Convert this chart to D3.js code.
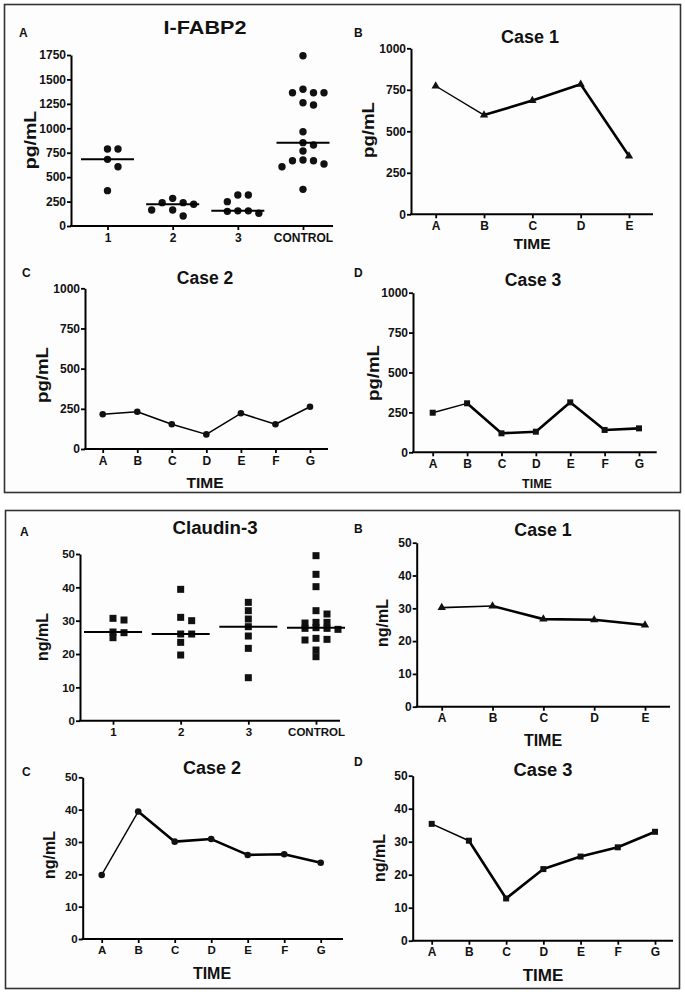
<!DOCTYPE html>
<html><head><meta charset="utf-8">
<script src="https://cdn.jsdelivr.net/npm/d3@7"></script>
<style>
html,body{margin:0;padding:0;background:#fff;}
svg text{font-family:Arial,"Liberation Sans",sans-serif;font-weight:bold;fill:#111;}
</style></head>
<body>
<svg id="c" width="685" height="992"></svg>
<script>
// ---------- DATA ----------
const groupCats = ["1", "2", "3", "CONTROL"];
const timeCats5 = ["A", "B", "C", "D", "E"];
const timeCats7 = ["A", "B", "C", "D", "E", "F", "G"];

// I-FABP2 (pg/mL)
const fabpGroup1 = [362, 607, 682, 788, 788];
const fabpGroup2 = [283, 239, 164, 222, 102, 239, 164];
const fabpGroup3 = [317, 317, 249, 155, 130, 155, 150];
const fabpControl = [1743, 1399, 1364, 1364, 1364, 1262, 1238, 965, 853, 829, 768, 675, 668, 668, 635, 607, 375];
const fabpCase1 = [773, 598, 685, 783, 351];
const fabpCase2 = [216, 232, 154, 91, 222, 154, 263];
const fabpCase3 = [248, 307, 119, 129, 313, 140, 150];
const fabpTicks = [0, 250, 500, 750, 1000, 1250, 1500, 1750];
const fabpCaseTicks = [0, 250, 500, 750, 1000];

// Claudin-3 (ng/mL)
const clGroup1 = [30.7, 30.2, 26.6, 24.9, 26.4];
const clGroup2 = [39.4, 30.0, 31.0, 26.0, 26.0, 23.5, 19.7];
const clGroup3 = [35.5, 33.0, 30.5, 28.2, 25.4, 21.7, 12.9];
const clControl = [49.5, 43.9, 40.2, 33.0, 32.0, 29.5, 29.3, 29.5, 27.9, 27.7, 27.4, 27.7, 24.4, 24.2, 24.7, 21.2, 19.2];
const clCase1 = [30.2, 30.7, 26.7, 26.5, 24.9];
const clCase2 = [19.8, 39.4, 30.1, 30.9, 26.0, 26.2, 23.6];
const clCase3 = [35.4, 30.3, 12.8, 21.7, 25.5, 28.3, 33.0];
const clTicks = [0, 10, 20, 30, 40, 50];

// ---------- DRAWING ----------
const svg = d3.select("#c");
svg.append("rect").attr("x", 4.5).attr("y", 4.5).attr("width", 676).attr("height", 488)
  .attr("fill", "#fdfdfd").attr("stroke", "#333").attr("stroke-width", 1.6);
svg.append("rect").attr("x", 5.5).attr("y", 510.5).attr("width", 674).attr("height", 478)
  .attr("fill", "#fdfdfd").attr("stroke", "#333").attr("stroke-width", 1.6);

function txt(x, y, s, size, opts = {}) {
  const t = svg.append("text").attr("font-size", size).attr("text-anchor", opts.anchor || "middle");
  let tr = `translate(${x},${y})`;
  if (opts.rot) tr += ` rotate(${opts.rot})`;
  if (opts.sx) tr += ` scale(${opts.sx},1)`;
  t.attr("transform", tr).text(s);
  return t;
}

function frame(c) {
  const y = d3.scaleLinear().domain([0, c.max]).range([c.y0, c.yTop]);
  const x = d3.scalePoint().domain(c.cats).range([c.cx0, c.cx1]);
  const g = svg.append("g");
  const ya = g.append("g").attr("transform", `translate(${c.ax},0)`)
    .call(d3.axisLeft(y).tickValues(c.ticks).tickSize(4).tickSizeOuter(0).tickPadding(1).tickFormat(d3.format("d")));
  ya.select(".domain").attr("stroke", "#000").attr("stroke-width", 2);
  ya.selectAll(".tick line").attr("stroke", "#000").attr("stroke-width", 1.8);
  ya.selectAll(".tick text").attr("font-size", c.tickSize).attr("fill", "#111")
    .attr("font-family", "Arial,'Liberation Sans',sans-serif").attr("font-weight", "bold");
  g.append("line").attr("x1", c.ax - 1).attr("x2", c.axEnd).attr("y1", c.y0).attr("y2", c.y0)
    .attr("stroke", "#000").attr("stroke-width", 2);
  const xa = g.append("g").attr("transform", `translate(0,${c.y0})`)
    .call(d3.axisBottom(x).tickSize(4).tickPadding(3));
  xa.select(".domain").remove();
  xa.selectAll(".tick line").attr("stroke", "#000").attr("stroke-width", 1.8);
  xa.selectAll(".tick text").attr("font-size", c.xTickSize || c.tickSize).attr("fill", "#111")
    .attr("font-family", "Arial,'Liberation Sans',sans-serif").attr("font-weight", "bold");
  txt(c.tx, c.ty, c.title, c.titleSize, { sx: c.titleSx || 1 });
  txt(c.lx, c.ly, c.letter, 12, { anchor: "start" });
  txt(c.ylx, c.yly, c.ylabel, c.ylabelSize, { rot: -90, sx: c.ylabelSx || 1 });
  if (c.xlabel) txt(c.xlx, c.xly, c.xlabel, c.xlabelSize);
  return { x, y, g };
}

function swarm(vals, y, gap) {
  const order = vals.map((v, i) => i).sort((a, b) => vals[b] - vals[a]);
  const placed = [];
  const off = new Array(vals.length);
  const ks = [0, 1, -1, 2, -2, 3, -3, 4, -4];
  order.forEach(i => {
    const py = y(vals[i]);
    for (const k of ks) {
      if (!placed.some(p => p.k === k && Math.abs(p.py - py) < gap)) {
        placed.push({ k, py }); off[i] = k; break;
      }
    }
  });
  return off;
}

function scatter(c, groups, shape) {
  const { x, y, g } = frame(c);
  groups.forEach((vals, gi) => {
    const cx = x(c.cats[gi]);
    const off = swarm(vals, y, c.gap);
    vals.forEach((v, i) => {
      const px = cx + off[i] * c.colSp, py = y(v);
      if (shape === "circle") g.append("circle").attr("cx", px).attr("cy", py).attr("r", c.dia / 2).attr("fill", "#111");
      else g.append("rect").attr("x", px - c.dia / 2).attr("y", py - c.dia / 2).attr("width", c.dia).attr("height", c.dia).attr("fill", "#111");
    });
    const med = d3.median(vals);
    g.append("line").attr("x1", cx - c.medW / 2).attr("x2", cx + c.medW / 2).attr("y1", y(med)).attr("y2", y(med))
      .attr("stroke", "#000").attr("stroke-width", 2);
  });
}

function lineChart(c, vals, symType, symSize) {
  const { x, y, g } = frame(c);
  const pts = vals.map((v, i) => [x(c.cats[i]), y(v)]);
  const line = d3.line();
  g.append("path").attr("d", line(pts.slice(0, 2))).attr("fill", "none").attr("stroke", "#000").attr("stroke-width", c.thin);
  g.append("path").attr("d", line(pts.slice(1))).attr("fill", "none").attr("stroke", "#000").attr("stroke-width", c.thick)
    .attr("stroke-linejoin", "round");
  const sym = d3.symbol().type(symType).size(symSize);
  pts.forEach(p => g.append("path").attr("d", sym()).attr("transform", `translate(${p[0]},${p[1]})`).attr("fill", "#111"));
}

// Top figure: I-FABP2
scatter({ ax: 71, axEnd: 333, y0: 226, yTop: 55, max: 1750, ticks: fabpTicks, cats: groupCats, cx0: 107.5, cx1: 303,
  tickSize: 12, title: "I-FABP2", titleSize: 18, titleSx: 1.2, tx: 205, ty: 34, letter: "A", lx: 19, ly: 37,
  ylabel: "pg/mL", ylabelSize: 17, ylabelSx: 1.15, ylx: 36, yly: 140, dia: 7.4, gap: 7.4, colSp: 10.5, medW: 53 },
  [fabpGroup1, fabpGroup2, fabpGroup3, fabpControl], "circle");

lineChart({ ax: 411, axEnd: 653, y0: 214.3, yTop: 48.3, max: 1000, ticks: fabpCaseTicks, cats: timeCats5, cx0: 435.7, cx1: 629,
  tickSize: 12, title: "Case 1", titleSize: 18, tx: 530, ty: 43, letter: "B", lx: 354, ly: 37,
  ylabel: "pg/mL", ylabelSize: 17, ylabelSx: 1.1, ylx: 374, yly: 130, xlabel: "TIME", xlabelSize: 15.5, xlx: 532, xly: 249,
  thin: 1.4, thick: 2.6 }, fabpCase1, d3.symbolTriangle, 30);

lineChart({ ax: 85, axEnd: 328, y0: 449, yTop: 288.3, max: 1000, ticks: fabpCaseTicks, cats: timeCats7, cx0: 102.7, cx1: 310,
  tickSize: 12, title: "Case 2", titleSize: 17.5, tx: 205, ty: 284, letter: "C", lx: 22, ly: 277,
  ylabel: "pg/mL", ylabelSize: 17, ylabelSx: 1.1, ylx: 48, yly: 375, xlabel: "TIME", xlabelSize: 15.5, xlx: 205, xly: 488,
  thin: 1.5, thick: 1.5 }, fabpCase2, d3.symbolCircle, 34);

lineChart({ ax: 413, axEnd: 656.7, y0: 452.3, yTop: 292.7, max: 1000, ticks: fabpCaseTicks, cats: timeCats7, cx0: 432.7, cx1: 639,
  tickSize: 12, title: "Case 3", titleSize: 17.5, tx: 533, ty: 286, letter: "D", lx: 354, ly: 277,
  ylabel: "pg/mL", ylabelSize: 17, ylabelSx: 1.1, ylx: 379, yly: 373, xlabel: "TIME", xlabelSize: 12.5, xlx: 537, xly: 488,
  thin: 1.4, thick: 2.6 }, fabpCase3, d3.symbolSquare, 36);

// Bottom figure: Claudin-3
scatter({ ax: 80, axEnd: 340, y0: 720.7, yTop: 554, max: 50, ticks: clTicks, cats: groupCats, cx0: 113, cx1: 316,
  tickSize: 11.5, title: "Claudin-3", titleSize: 18.7, tx: 215, ty: 534, letter: "A", lx: 20, ly: 536,
  ylabel: "ng/mL", ylabelSize: 16, ylabelSx: 1.0, ylx: 48, yly: 637, dia: 7, gap: 4.5, colSp: 11, medW: 58 },
  [clGroup1, clGroup2, clGroup3, clControl], "square");

lineChart({ ax: 416.7, axEnd: 670, y0: 706.7, yTop: 542.7, max: 50, ticks: clTicks, cats: timeCats5, cx0: 441.7, cx1: 645,
  tickSize: 12, title: "Case 1", titleSize: 17.8, tx: 543, ty: 536, letter: "B", lx: 354, ly: 533,
  ylabel: "ng/mL", ylabelSize: 16, ylx: 388, yly: 623, xlabel: "TIME", xlabelSize: 16, xlx: 543, xly: 746,
  thin: 1.6, thick: 2.6 }, clCase1, d3.symbolTriangle, 30);

lineChart({ ax: 82.7, axEnd: 343, y0: 939, yTop: 777.3, max: 50, ticks: clTicks, cats: timeCats7, cx0: 101.7, cx1: 320.7,
  tickSize: 11.5, title: "Case 2", titleSize: 18, tx: 212, ty: 774, letter: "C", lx: 22, ly: 776,
  ylabel: "ng/mL", ylabelSize: 16, ylx: 55, yly: 855, xlabel: "TIME", xlabelSize: 16, xlx: 212, xly: 979,
  thin: 1.4, thick: 2.6 }, clCase2, d3.symbolCircle, 34);

lineChart({ ax: 412.7, axEnd: 673, y0: 940.7, yTop: 775.7, max: 50, ticks: clTicks, cats: timeCats7, cx0: 431.7, cx1: 655,
  tickSize: 12, title: "Case 3", titleSize: 18.3, tx: 543, ty: 776, letter: "D", lx: 354, ly: 766,
  ylabel: "ng/mL", ylabelSize: 16, ylx: 385, yly: 858, xlabel: "TIME", xlabelSize: 17, xlx: 543, xly: 981,
  thin: 1.6, thick: 2.6 }, clCase3, d3.symbolSquare, 36);
</script>
</body></html>
